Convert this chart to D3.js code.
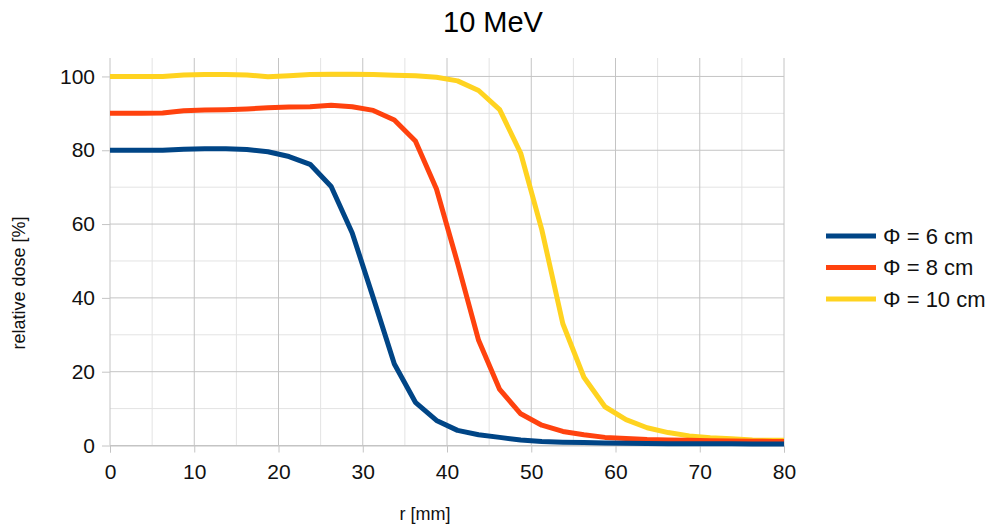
<!DOCTYPE html>
<html>
<head>
<meta charset="utf-8">
<script src="https://cdn.jsdelivr.net/npm/d3@7"></script>
<style>
  html, body { margin: 0; padding: 0; background: #fff; }
  svg { display: block; font-family: "Liberation Sans", Arial, sans-serif; }
</style>
</head>
<body>
<svg id="chart" width="995" height="530"></svg>
<script>
const chartTitle = "10 MeV";
const xAxisTitle = "r [mm]";
const yAxisTitle = "relative dose [%]";

const rValues = [0, 1.25, 3.75, 6.25, 8.75, 11.25, 13.75, 16.25, 18.75, 21.25, 23.75, 26.25, 28.75,
  31.25, 33.75, 36.25, 38.75, 41.25, 43.75, 46.25, 48.75, 51.25, 53.75, 56.25, 58.75,
  61.25, 63.75, 66.25, 68.75, 71.25, 73.75, 76.25, 78.75, 80];

const seriesNames = ["Φ = 6 cm", "Φ = 8 cm", "Φ = 10 cm"];
const seriesColors = ["#004586", "#ff420e", "#ffd320"];

const dose6 = [80, 80, 80, 80, 80.3, 80.4, 80.4, 80.2, 79.6, 78.3, 76.2, 70.2, 57.6,
  40.0, 22.1, 11.7, 6.8, 4.1, 2.9, 2.2, 1.5, 1.1, 0.9, 0.8, 0.7,
  0.6, 0.55, 0.5, 0.5, 0.45, 0.45, 0.4, 0.4, 0.4];
const dose8 = [90, 90, 90, 90.1, 90.7, 90.9, 91.0, 91.2, 91.5, 91.7, 91.8, 92.2, 91.8,
  90.8, 88.2, 82.5, 69.5, 49.5, 28.5, 15.2, 8.6, 5.5, 3.8, 2.9, 2.2,
  1.9, 1.6, 1.5, 1.4, 1.3, 1.2, 1.15, 1.1, 1.1];
const dose10 = [100, 100, 100, 100, 100.4, 100.5, 100.5, 100.4, 99.9, 100.2, 100.5, 100.6, 100.6,
  100.5, 100.3, 100.2, 99.8, 98.8, 96.2, 91.0, 79.2, 58.5, 33.0, 18.5, 10.5,
  7.0, 4.8, 3.5, 2.6, 2.1, 1.8, 1.5, 1.4, 1.4];

const xMajorTicks = [0, 10, 20, 30, 40, 50, 60, 70, 80];
const xMinorTicks = [5, 15, 25, 35, 45, 55, 65, 75];
const yMajorTicks = [0, 20, 40, 60, 80, 100];
const yMinorTicks = [10, 30, 50, 70, 90];

const seriesValues = [dose6, dose8, dose10];

const svg = d3.select("#chart");
const plotLeft = 110, plotRight = 784, plotTop = 58, plotBottom = 445.5;

const x = d3.scaleLinear().domain([0, 80]).range([plotLeft, plotRight]);
const y = d3.scaleLinear().domain([0, 105]).range([plotBottom, plotTop]);

// minor grid
const grid = svg.append("g");
grid.selectAll("line.xmin").data(xMinorTicks).join("line").attr("class", "xmin")
  .attr("x1", d => x(d)).attr("x2", d => x(d)).attr("y1", plotTop).attr("y2", plotBottom)
  .attr("stroke", "#e3e3e3").attr("stroke-width", 1);
grid.selectAll("line.ymin").data(yMinorTicks).join("line").attr("class", "ymin")
  .attr("x1", plotLeft).attr("x2", plotRight).attr("y1", d => y(d)).attr("y2", d => y(d))
  .attr("stroke", "#e3e3e3").attr("stroke-width", 1);

// major grid
grid.selectAll("line.xmaj").data(xMajorTicks).join("line").attr("class", "xmaj")
  .attr("x1", d => x(d)).attr("x2", d => x(d)).attr("y1", plotTop).attr("y2", plotBottom)
  .attr("stroke", "#c4c4c4").attr("stroke-width", 1);
grid.selectAll("line.ymaj").data(yMajorTicks).join("line").attr("class", "ymaj")
  .attr("x1", plotLeft).attr("x2", plotRight).attr("y1", d => y(d)).attr("y2", d => y(d))
  .attr("stroke", "#c4c4c4").attr("stroke-width", 1);

// axes
const xAxis = d3.axisBottom(x).tickValues(xMajorTicks).tickSize(7).tickPadding(12);
const gx = svg.append("g").attr("transform", `translate(0,${plotBottom})`).call(xAxis);
gx.select(".domain").attr("stroke", "#c4c4c4");
gx.selectAll(".tick line").attr("stroke", "#c4c4c4");
gx.selectAll(".tick text").attr("font-size", 21).attr("fill", "#111")
  .attr("font-family", "Liberation Sans, Arial, sans-serif");

const yAxis = d3.axisLeft(y).tickValues(yMajorTicks).tickSize(8).tickPadding(7);
const gy = svg.append("g").attr("transform", `translate(${plotLeft},0)`).call(yAxis);
gy.select(".domain").remove();
gy.selectAll(".tick line").attr("stroke", "#c4c4c4");
gy.selectAll(".tick text").attr("font-size", 21).attr("fill", "#111")
  .attr("font-family", "Liberation Sans, Arial, sans-serif");

// lines (drawn in reverse so the first series is on top)
const line = d3.line().x((d, i) => x(rValues[i])).y(d => y(d));
const order = [2, 1, 0];
svg.append("g").selectAll("path").data(order).join("path")
  .attr("d", k => line(seriesValues[k]))
  .attr("fill", "none")
  .attr("stroke", k => seriesColors[k])
  .attr("stroke-width", 5)
  .attr("stroke-linejoin", "round");

// title
svg.append("text").attr("x", 493).attr("y", 32).attr("text-anchor", "middle")
  .attr("font-size", 29).attr("fill", "#000").text(chartTitle);

// axis titles
svg.append("text").attr("x", 425).attr("y", 520).attr("text-anchor", "middle")
  .attr("font-size", 18).attr("fill", "#111").text(xAxisTitle);
svg.append("text").attr("transform", "translate(25,283) rotate(-90)")
  .attr("text-anchor", "middle").attr("font-size", 18).attr("fill", "#111").text(yAxisTitle);

// legend
const legend = svg.append("g");
const legY = [236, 267.5, 299];
seriesNames.forEach((name, i) => {
  legend.append("line").attr("x1", 826).attr("x2", 876).attr("y1", legY[i]).attr("y2", legY[i])
    .attr("stroke", seriesColors[i]).attr("stroke-width", 5);
  legend.append("text").attr("x", 883).attr("y", legY[i] + 7.5)
    .attr("font-size", 22).attr("fill", "#111").text(name);
});
</script>
</body>
</html>
